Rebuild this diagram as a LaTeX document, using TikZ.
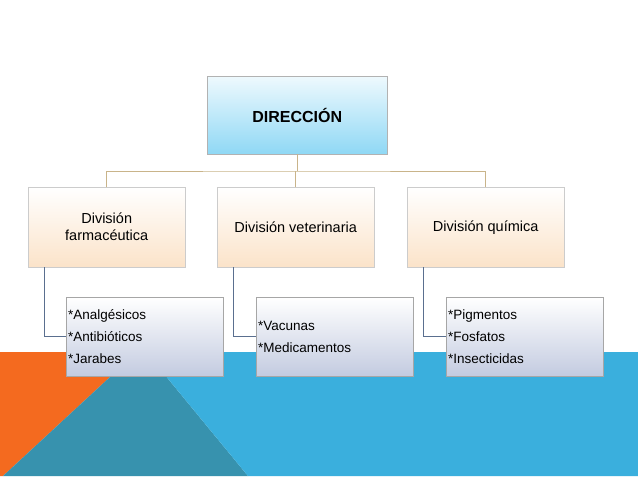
\documentclass[tikz,border=0pt]{standalone}
\usepackage{fontspec}
\setmainfont{Liberation Sans}
\definecolor{bgorange}{HTML}{F46A1F}
\definecolor{bgteal}{HTML}{3792AE}
\definecolor{bgblue}{HTML}{3AAFDD}
\definecolor{topcyan}{HTML}{8FD8F5}
\definecolor{divpeach}{HTML}{FBE3C9}
\definecolor{itemgray}{HTML}{C3CBE0}
\definecolor{tancol}{HTML}{C9B48A}
\definecolor{itemcol}{HTML}{5A6F8F}
\begin{document}
\begin{tikzpicture}[
        x=1pt, y=-1pt,
        % estilos
        topbox/.style={draw=gray!60, top color=white!85!topcyan, bottom color=topcyan, anchor=north west,
            minimum width=180pt, minimum height=78pt, inner sep=2pt, font=\fontsize{16}{18}\selectfont\bfseries},
        divbox/.style={draw=gray!40, top color=white, bottom color=divpeach, anchor=north west,
            minimum width=157pt, minimum height=80pt, align=center, font=\fontsize{14.5}{17}\selectfont},
        itembox/.style={draw=gray!70, top color=white, bottom color=itemgray, anchor=north west,
            minimum width=157pt, minimum height=79pt, align=left, text width=153pt, inner sep=2pt,
            font=\fontsize{13.5}{22}\selectfont},
        tanline/.style={draw=tancol, thick},
        itemline/.style={draw=itemcol, thick}
    ]

    % --- fondo ---
    \useasboundingbox (0,0) rectangle (638,479);
    \fill[white] (0,0) rectangle (638,479);
    \fill[bgorange] (0,352) -- (137,352) -- (3,476) -- (0,476) -- cycle;
    \fill[bgteal] (3,476) -- (137,352) -- (146,352) -- (248,476) -- cycle;
    \fill[bgblue] (146,352) -- (638,352) -- (638,476) -- (248,476) -- cycle;

    % --- nodos ---
    \node[topbox] (dir) at (207,76) {DIRECCIÓN};
    \node[divbox] (farm) at (28,187) {División\\farmacéutica};
    \node[divbox] (vet) at (217,187) {División veterinaria};
    \node[divbox] (quim) at (407,187) {División química};
    \node[itembox] (lfarm) at (66,297) {{*}Analgésicos\\{*}Antibióticos\\{*}Jarabes};
    \node[itembox] (lvet) at (256,297) {{*}Vacunas\\{*}Medicamentos};
    \node[itembox] (lquim) at (446,297) {{*}Pigmentos\\{*}Fosfatos\\{*}Insecticidas};

    % --- conectores ---
    \coordinate (bar) at (0,171);
    \draw[tanline] (dir.south) -- (dir.south |- bar);
    \draw[tanline] (farm.north) |- (dir.south |- bar) -| (quim.north);
    \draw[tanline] (vet.north) -- (vet.north |- bar);
    \foreach \d/\l in {farm/lfarm, vet/lvet, quim/lquim} {
        \draw[itemline] ([xshift=16pt]\d.south west) |- (\l.west);
    }
\end{tikzpicture}
\end{document}
